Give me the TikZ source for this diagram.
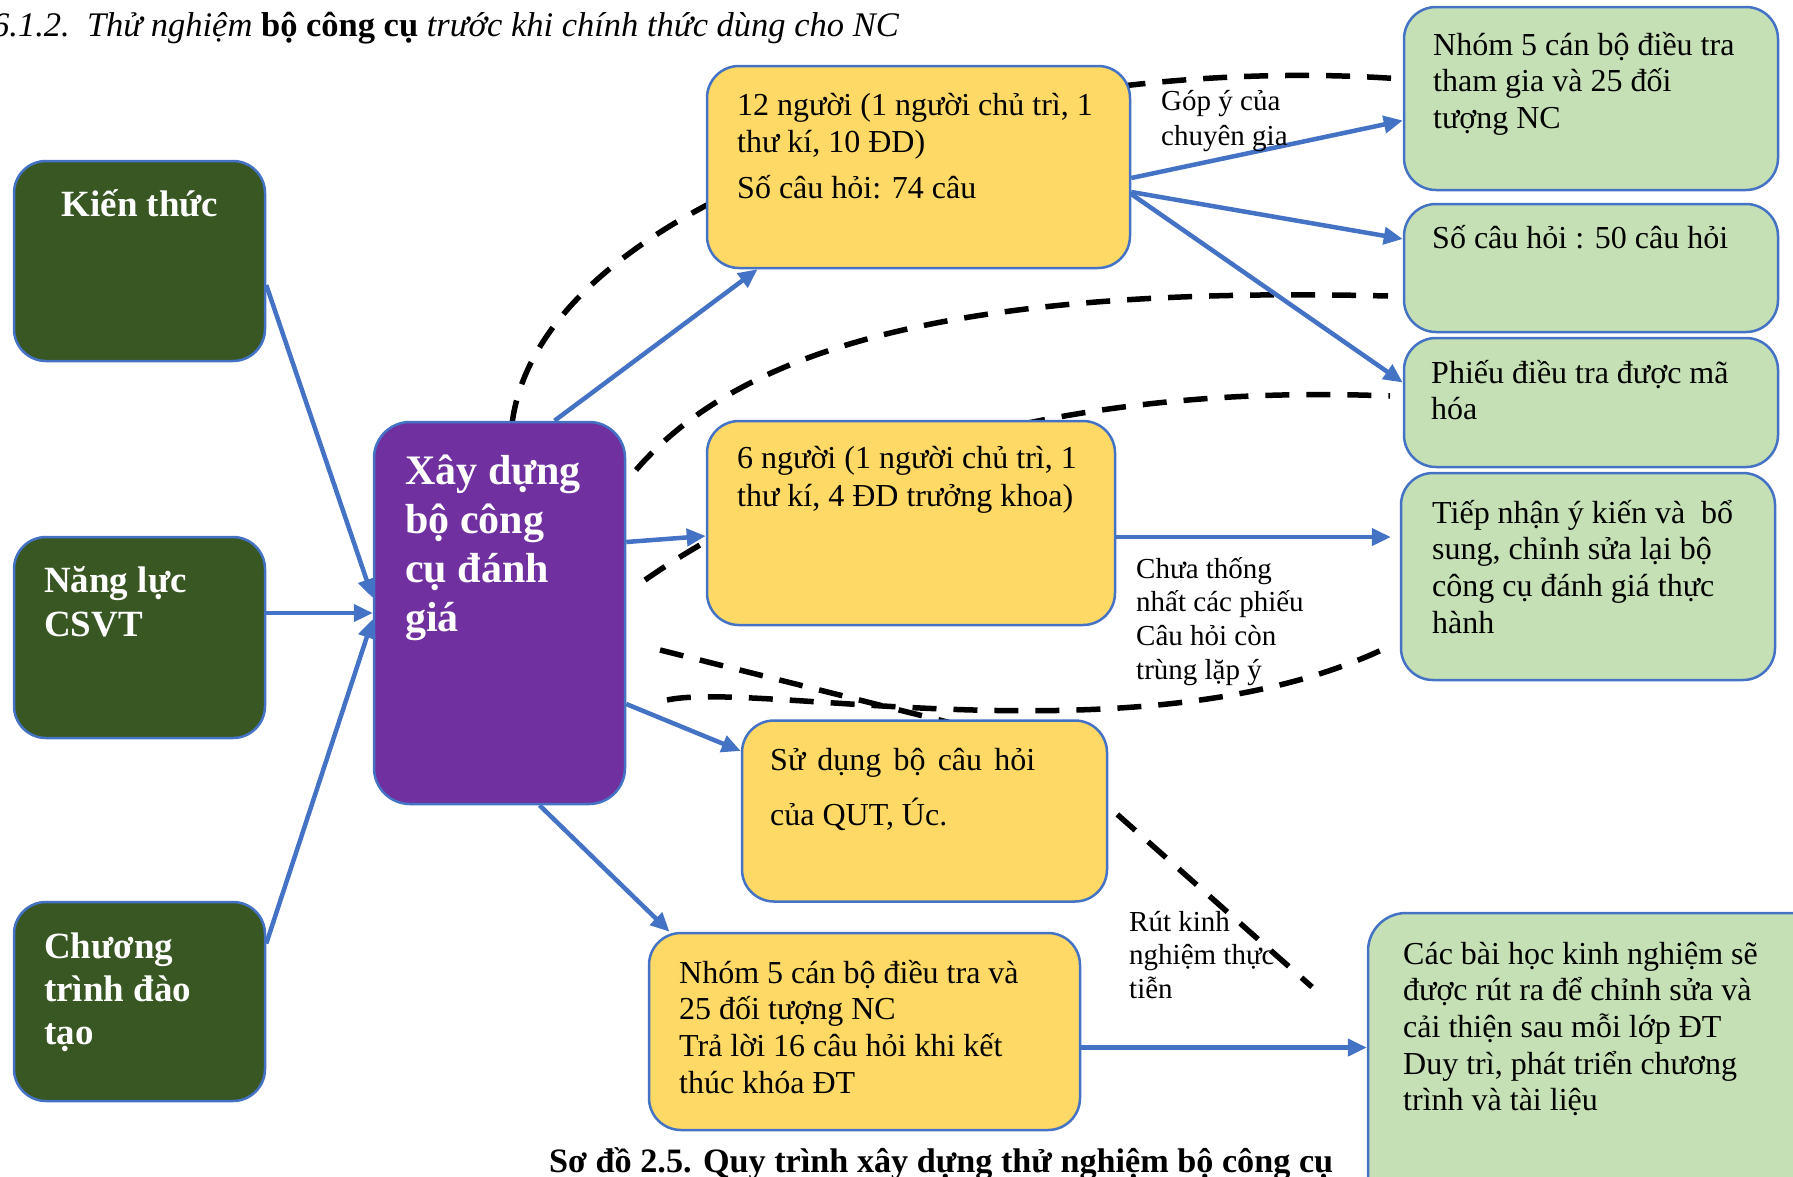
\documentclass[tikz,border=0pt]{standalone}
\usepackage{fontspec}
\setmainfont{Liberation Serif}
\usetikzlibrary{arrows.meta,calc}

\definecolor{dkgreen}{HTML}{385723}
\definecolor{boxpurple}{HTML}{7030A0}
\definecolor{boxyellow}{HTML}{FFD966}
\definecolor{boxgreen}{HTML}{C5E0B4}
\definecolor{edgeblue}{HTML}{4472C4}

\newcommand\fsz[2]{\fontsize{#1}{#2}\selectfont}

\begin{document}
\begin{tikzpicture}[x=1pt,y=-1pt,
  box/.style={draw=edgeblue, line width=2.5pt, rounded corners=32pt, inner sep=0pt},
  darkbox/.style={box, fill=dkgreen},
  mainbox/.style={box, fill=boxpurple, rounded corners=36pt},
  ybox/.style={box, fill=boxyellow},
  gbox/.style={box, fill=boxgreen},
  flow/.style={edgeblue, line width=4.5pt, -{Triangle[length=19pt,width=17pt]}},
  guide/.style={black, line width=5.5pt, dash pattern=on 24pt off 17pt},
  txt/.style={anchor=base west, inner sep=0pt}
]
\useasboundingbox (0,0) rectangle (1793,1176);
\clip (0,0) rectangle (1793,1176);

% dashed guide curves (drawn first, boxes cover them)
\coordinate (a0) at (512,424);  \coordinate (a1) at (1402,79);
\coordinate (b0) at (636,470);  \coordinate (b1) at (1388,296);
\coordinate (c0) at (645,580);  \coordinate (c1) at (1390,396);
\coordinate (d0) at (667,700);  \coordinate (d1) at (1392,645);
\coordinate (e0) at (660,650);  \coordinate (e1) at (1312,987);
\draw[guide] (a0) .. controls (540,200) and (1000,50) .. (a1);
\draw[guide] (b0) .. controls (740,350) and (950,285) .. (b1);
\draw[guide] (c0) .. controls (760,500) and (1000,380) .. (c1);
\draw[guide] (d0) .. controls (760,680) and (1150,765) .. (d1);
\draw[guide, rounded corners=80pt] (e0) -- (1039,745) -- (e1);

% boxes
\node[darkbox, minimum width=251pt, minimum height=200pt] (k) at (139.5,261) {};
\node[darkbox, minimum width=251pt, minimum height=201pt] (n) at (139.5,637.5) {};
\node[darkbox, minimum width=251pt, minimum height=199pt] (c) at (139.5,1001.5) {};
\node[mainbox, minimum width=251pt, minimum height=382pt] (p) at (499.5,613) {};
\node[ybox, minimum width=423pt, minimum height=202pt] (y1) at (918.5,167) {};
\node[ybox, minimum width=408pt, minimum height=204pt] (y2) at (911,523) {};
\node[ybox, minimum width=365pt, minimum height=181pt] (y3) at (924.5,811) {};
\node[ybox, minimum width=431pt, minimum height=197pt] (y4) at (864.5,1031.5) {};
\node[gbox, minimum width=374pt, minimum height=183pt] (g1) at (1591,98.5) {};
\node[gbox, minimum width=374pt, minimum height=128pt] (g2) at (1591,268) {};
\node[gbox, minimum width=374pt, minimum height=129pt] (g3) at (1591,402.5) {};
\node[gbox, minimum width=374pt, minimum height=207pt] (g4) at (1588,576.5) {};
\node[gbox, minimum width=462pt, minimum height=327pt, rounded corners=38pt] (g5) at (1599,1076.5) {};

% arrows
\draw[flow] ([yshift=-24pt]k.east) -- ([yshift=15pt]p.west);
\draw[flow] (p.west -| n.east) -- (p.west);
\draw[flow] ([yshift=58pt]c.east) -- ([yshift=-6pt]p.west);
\draw[flow] ([xshift=55pt]p.north) -- ([xshift=-161pt]y1.south);
\draw[flow] ([yshift=71pt]p.east) -- ([yshift=-13pt]y2.west);
\draw[flow] ([yshift=-91pt]p.east) -- ([yshift=60pt]y3.west);
\draw[flow] ([xshift=40pt]p.south) -- ([xshift=-195pt]y4.north);
\draw[flow] ([yshift=-11pt]y1.east) -- ([yshift=-22pt]g1.west);
\draw[flow] ([yshift=-25pt]y1.east) -- ([yshift=29pt]g2.west);
\draw[flow] ([yshift=-27pt]y1.east) -- ([yshift=20pt]g3.west);
\coordinate (y2out) at ([yshift=-14pt]y2.east);
\coordinate (g4in) at ([xshift=-9pt]g4.west);
\draw[flow] (y2out) -- (y2out -| g4in);
\coordinate (y4out) at ([yshift=-16pt]y4.east);
\draw[flow] (y4out) -- (y4out -| g5.west);

% heading and caption
\node[anchor=base east, inner sep=0pt] (title) at (899,36)
  {\fsz{34.5}{40}\itshape 6.1.2.\ \ Thử nghiệm {\upshape\bfseries bộ công cụ} trước khi chính thức dùng cho NC};
\node[txt] (caption) at (549,1172)
  {\fsz{34.2}{40}\bfseries Sơ đồ 2.5. Quy trình xây dựng thử nghiệm bộ công cụ};

% texts of the left column and the central box
\node[anchor=base, inner sep=0pt, text=white] (tk) at (140,216) {\fsz{37}{43}\bfseries Kiến thức};
\node[txt, text=white] (tn) at (44,592) {\parbox[t]{215pt}{\fsz{37}{44}\bfseries Năng lực\\CSVT}};
\node[txt, text=white] (tc) at (44,958) {\parbox[t]{215pt}{\fsz{37}{43}\bfseries Chương\\trình đào\\tạo}};
\node[txt, text=white] (tp) at (405,484) {\parbox[t]{215pt}{\fsz{42}{49}\bfseries Xây dựng\\bộ công\\cụ đánh\\giá}};

% texts of the yellow boxes
\node[txt] (ty1) at (737,115) {\parbox[t]{390pt}{\fsz{32}{37}12 người (1 người chủ trì, 1\\thư kí, 10 ĐD)\\[9pt]Số câu hỏi: 74 câu}};
\node[txt] (ty2) at (737,468) {\parbox[t]{370pt}{\fsz{32}{38}6 người (1 người chủ trì, 1\\thư kí, 4 ĐD trưởng khoa)}};
\node[txt] (ty3) at (770,770) {\parbox[t]{330pt}{\fsz{32}{55}\makebox[265pt][s]{Sử dụng bộ câu hỏi}\\của QUT, Úc.}};
\node[txt] (ty4) at (679,983) {\parbox[t]{400pt}{\fsz{32}{36.7}Nhóm 5 cán bộ điều tra và\\25 đối tượng NC\\Trả lời 16 câu hỏi khi kết\\thúc khóa ĐT}};

% texts of the green boxes
\node[txt] (tg1) at (1433,55) {\parbox[t]{340pt}{\fsz{32}{36.7}Nhóm 5 cán bộ điều tra\\tham gia và 25 đối\\tượng NC}};
\node[txt] (tg2) at (1432,248) {\fsz{32}{36.7}Số câu hỏi : 50 câu hỏi};
\node[txt] (tg3) at (1431,383) {\parbox[t]{340pt}{\fsz{32}{36.7}Phiếu điều tra được mã\\hóa}};
\node[txt] (tg4) at (1432,523) {\parbox[t]{340pt}{\fsz{32}{36.7}Tiếp nhận ý kiến và\ \ bổ\\sung, chỉnh sửa lại bộ\\công cụ đánh giá thực\\hành}};
\node[txt] (tg5) at (1403,964) {\parbox[t]{380pt}{\fsz{32}{36.7}Các bài học kinh nghiệm sẽ\\được rút ra để chỉnh sửa và\\cải thiện sau mỗi lớp ĐT\\Duy trì, phát triển chương\\trình và tài liệu}};

% connector labels
\node[txt] (lg) at (1161,110) {\parbox[t]{200pt}{\fsz{29}{35}Góp ý của\\chuyên gia}};
\node[txt] (lc) at (1136,578) {\parbox[t]{220pt}{\fsz{29}{33.7}Chưa thống\\nhất các phiếu\\Câu hỏi còn\\trùng lặp ý}};
\node[txt] (lr) at (1129,931) {\parbox[t]{220pt}{\fsz{29}{33.5}Rút kinh\\nghiệm thực\\tiễn}};
\end{tikzpicture}
\end{document}
